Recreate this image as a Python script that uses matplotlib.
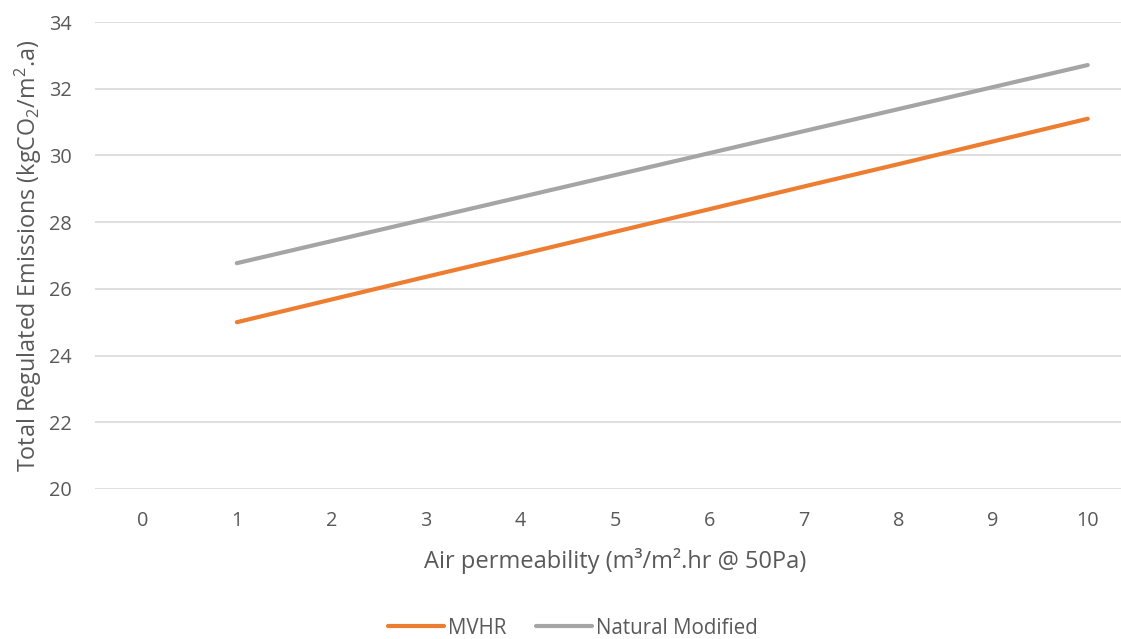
import matplotlib
matplotlib.use("Agg")
import matplotlib.pyplot as plt

x_categories = [0, 1, 2, 3, 4, 5, 6, 7, 8, 9, 10]
x_series = [1, 2, 3, 4, 5, 6, 7, 8, 9, 10]
mvhr = [25.0, 25.68, 26.36, 27.03, 27.71, 28.39, 29.07, 29.74, 30.42, 31.1]
natural_modified = [26.77, 27.43, 28.09, 28.75, 29.41, 30.07, 30.73, 31.39, 32.05, 32.71]
y_ticks = [20, 22, 24, 26, 28, 30, 32, 34]

plt.rcParams['font.family'] = ['Open Sans', 'DejaVu Sans']
plt.rcParams['mathtext.fontset'] = 'custom'
plt.rcParams['mathtext.rm'] = 'Open Sans'
plt.rcParams['mathtext.it'] = 'Open Sans'

TXT = '#595959'
fig = plt.figure(figsize=(11.21, 6.39), dpi=100)
ax = fig.add_axes([95/1121, 1-489/639, (1135-95)/1121, (489-22)/639])

ax.plot(x_series, mvhr, color='#ED7D31', lw=3.0, solid_capstyle='round', label='MVHR', zorder=3)
ax.plot(x_series, natural_modified, color='#A5A5A5', lw=3.0, solid_capstyle='round', label='Natural Modified', zorder=3)

ax.set_xlim(-0.5, 10.5)
ax.set_ylim(20, 34)
ax.set_xticks(x_categories)
ax.set_xticklabels([str(c) for c in x_categories])
ax.set_yticks(y_ticks)
ax.grid(axis='y', color='#D9D9D9', lw=1.2)
ax.set_axisbelow(True)
for s in ax.spines.values():
    s.set_visible(False)
ax.tick_params(axis='both', length=0, labelsize=14.3, labelcolor=TXT)
ax.tick_params(axis='y', pad=17)
ax.tick_params(axis='x', pad=16)

ax.set_xlabel('Air permeability (m³/m².hr @ 50Pa)', fontsize=17, color=TXT, labelpad=12)
ax.set_ylabel(r'Total Regulated Emissions (kgCO$_2$/m$^2$.a)', fontsize=16.8, color=TXT, labelpad=3)

fig.legend(loc='center', bbox_to_anchor=(573/1121, 1-628/639), ncol=2, frameon=False,
           fontsize=14.8, labelcolor=TXT, handlelength=2.7, handletextpad=0.2, columnspacing=1.45)

fig.savefig('out.png', dpi=100)
